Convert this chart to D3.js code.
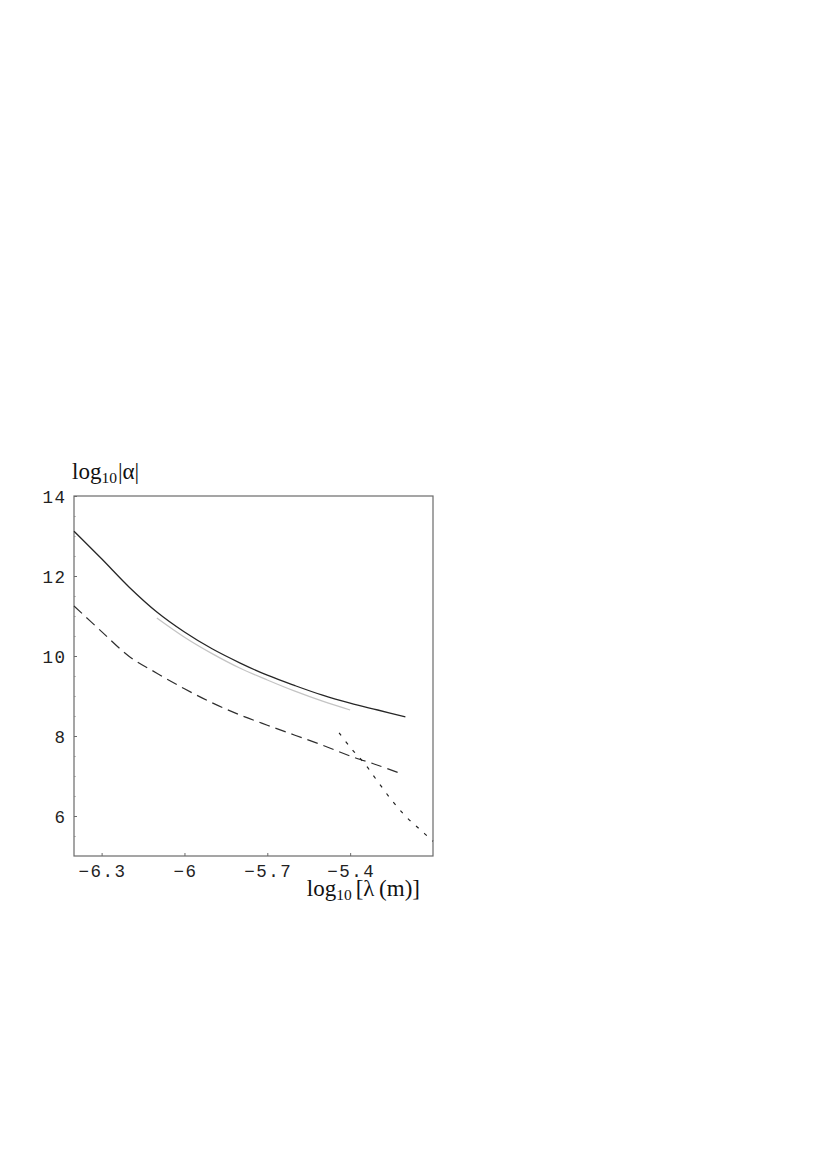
<!DOCTYPE html>
<html>
<head>
<meta charset="utf-8">
<script src="https://cdnjs.cloudflare.com/ajax/libs/d3/7.8.5/d3.min.js"></script>
<style>
body { margin: 0; background: #fff; }
.tick text { font-family: "Liberation Mono", monospace; font-size: 17.5px; letter-spacing: 1.5px; fill: #222; }
.lab { font-family: "Liberation Serif", "Times New Roman", serif; font-size: 23px; fill: #111; }
</style>
</head>
<body>
<svg id="chart"></svg>
<script>
// values
var xSolid = [-6.4, -6.3, -6.2, -6.1, -6.0, -5.9, -5.8, -5.7, -5.6, -5.5, -5.4, -5.3, -5.2];
var ySolid = [13.12, 12.43, 11.72, 11.1, 10.6, 10.18, 9.83, 9.52, 9.26, 9.02, 8.82, 8.65, 8.48];

var xGray = [-6.1, -6.0, -5.9, -5.8, -5.7, -5.6, -5.5, -5.4];
var yGray = [10.95, 10.47, 10.06, 9.7, 9.4, 9.12, 8.87, 8.65];

var xDashed = [-6.4, -6.3, -6.2, -6.1, -6.0, -5.9, -5.8, -5.7, -5.6, -5.5, -5.4, -5.3, -5.22];
var yDashed = [11.25, 10.61, 9.99, 9.57, 9.18, 8.83, 8.53, 8.27, 8.02, 7.77, 7.5, 7.27, 7.07];

var xDotted = [-5.44, -5.4, -5.35, -5.3, -5.25, -5.2, -5.15, -5.1];
var yDotted = [8.08, 7.72, 7.33, 6.86, 6.4, 6.0, 5.68, 5.37];

var xTicks = [-6.3, -6.0, -5.7, -5.4];
var xTickLabels = ["\u22126.3", "\u22126", "\u22125.7", "\u22125.4"];
var yTicks = [6, 8, 10, 12, 14];
var yMinor = [5.5, 6.5, 7, 7.5, 8.5, 9, 9.5, 10.5, 11, 11.5, 12.5, 13, 13.5];

var width = 828,
    height = 1170;

var padLeft = 74, padRight = 433, padTop = 496, padBottom = 856;

var svg = d3.select("#chart").attr("width", width).attr("height", height);

var x = d3.scaleLinear().domain([-6.4, -5.1]).range([padLeft, padRight]);
var y = d3.scaleLinear().domain([5, 14]).range([padBottom, padTop]);

// frame
svg.append("rect").attr("x", padLeft).attr("y", padTop)
	.attr("width", padRight - padLeft).attr("height", padBottom - padTop)
	.attr("fill", "none").attr("stroke", "#6a6a6a").attr("stroke-width", 1.2);

var xAxis = svg.append("g").attr("transform", "translate(0," + padBottom + ")")
	.call(d3.axisBottom(x).tickValues(xTicks).tickSize(-3)
		.tickFormat(function(d, i) { return xTickLabels[i]; }));
xAxis.select(".domain").remove();
xAxis.selectAll("line").attr("stroke", "#6a6a6a");
xAxis.selectAll("text").attr("y", 20.5).attr("dy", null).attr("dx", 0.5);

var yAxis = svg.append("g").attr("transform", "translate(" + padLeft + ",0)")
	.call(d3.axisLeft(y).tickValues(yTicks).tickSize(-3).tickFormat(d3.format("d")));
yAxis.select(".domain").remove();
yAxis.selectAll("line").attr("stroke", "#6a6a6a");
yAxis.selectAll("text").attr("x", -7.5).attr("dy", "0.35em");

var yAxisMinor = svg.append("g").attr("transform", "translate(" + padLeft + ",0)")
	.call(d3.axisLeft(y).tickValues(yMinor).tickSize(-1.5).tickFormat(""));
yAxisMinor.select(".domain").remove();
yAxisMinor.selectAll("line").attr("stroke", "#8a8a8a");

function drawCurve(xs, ys, color, w, dash) {
	var pts = xs.map(function(d, i) { return [x(d), y(ys[i])]; });
	var line = d3.line().curve(d3.curveCatmullRom.alpha(0.5));
	var p = svg.append("path").attr("d", line(pts))
		.attr("fill", "none").attr("stroke", color).attr("stroke-width", w);
	if (dash) p.attr("stroke-dasharray", dash);
}

drawCurve(xGray, yGray, "#c4c4c4", 1.3, null);
drawCurve(xSolid, ySolid, "#262626", 1.3, null);
drawCurve(xDashed, yDashed, "#2e2e2e", 1.2, "11,6");
drawCurve(xDotted, yDotted, "#222", 1.2, "3.5,7.5");

// axis labels
var yl = svg.append("text").attr("class", "lab").attr("x", 72).attr("y", 479);
yl.append("tspan").text("log");
yl.append("tspan").attr("font-size", "15.5px").attr("dy", 4).text("10");
yl.append("tspan").attr("dy", -4).attr("dx", 1).text("|\u03b1|");

var xl = svg.append("text").attr("class", "lab").attr("x", 420).attr("y", 896).attr("text-anchor", "end");
xl.append("tspan").text("log");
xl.append("tspan").attr("font-size", "15.5px").attr("dy", 4).text("10");
xl.append("tspan").attr("dy", -4).attr("dx", 4).text("[\u03bb\u2009(m)]");
</script>
</body>
</html>
